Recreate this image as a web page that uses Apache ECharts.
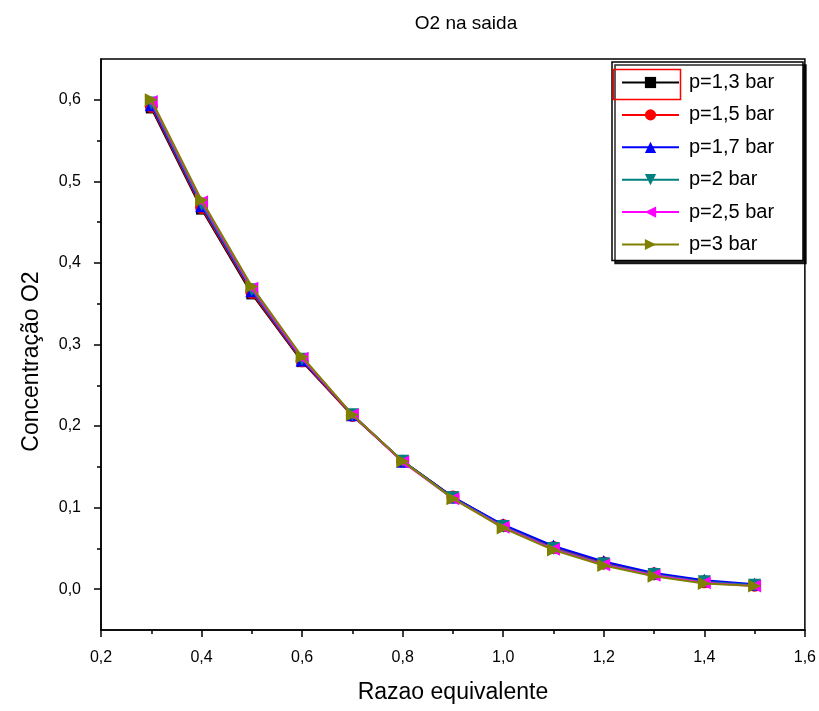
<!DOCTYPE html>
<html><head><meta charset="utf-8">
<script src="https://cdn.jsdelivr.net/npm/echarts@6/dist/echarts.min.js"></script>
<style>html,body{margin:0;padding:0;background:#fff}#c{width:819px;height:711px}</style>
</head><body><div id="c"></div>
<script>
const phi = [0.3,0.4,0.5,0.6,0.7,0.8,0.9,1.0,1.1,1.2,1.3,1.4,1.5];
const seriesNames = ['p=1,3 bar','p=1,5 bar','p=1,7 bar','p=2 bar','p=2,5 bar','p=3 bar'];
const p13 = [0.590,0.466,0.362,0.279,0.213,0.157,0.113,0.078,0.051,0.032,0.019,0.009,0.005];
const p15 = [0.592,0.468,0.364,0.280,0.213,0.157,0.113,0.078,0.051,0.032,0.019,0.009,0.005];
const p17 = [0.594,0.470,0.366,0.281,0.214,0.157,0.113,0.079,0.053,0.034,0.020,0.011,0.006];
const p20 = [0.596,0.472,0.367,0.282,0.214,0.157,0.112,0.077,0.050,0.031,0.018,0.009,0.005];
const p25 = [0.598,0.475,0.369,0.283,0.214,0.156,0.111,0.076,0.049,0.030,0.017,0.008,0.004];
const p30 = [0.600,0.477,0.371,0.285,0.214,0.157,0.111,0.075,0.048,0.029,0.016,0.007,0.004];
const allValues = [p13,p15,p17,p20,p25,p30];
const yMajorTicks = [0.0,0.1,0.2,0.3,0.4,0.5,0.6];
const yMinorTicks = [0.05,0.15,0.25,0.35,0.45,0.55];
const colors = ['#000000','#ff0000','#0000ff','#008080','#ff00ff','#808000'];
const symbols = ['rect','circle','triangle','triangle','triangle','triangle'];
const rotations = [0,0,0,180,90,-90];

const font = 'Liberation Sans, Arial, sans-serif';
const fmt = v => v.toFixed(1).replace('.', ',').replace('-0,0','0,0');

const series = allValues.map((vals,i)=>({
  name: seriesNames[i],
  type: 'line',
  yAxisIndex: 0,
  data: phi.map((x,j)=>[x, vals[j]]),
  symbol: symbols[i],
  symbolSize: i===0 ? 11 : 13,
  symbolRotate: rotations[i],
  showAllSymbol: true,
  lineStyle: {color: colors[i], width: 2},
  itemStyle: {color: colors[i]},
  z: 2 + i
}));

const axisLineStyle = {color: '#000', width: 1.5};
const chart = echarts.init(document.getElementById('c'), null, {renderer:'canvas'});
chart.setOption({
  animation: false,
  backgroundColor: '#fff',
  title: {text: 'O2 na saida', left: 461, textAlign: 'center', top: 9,
    textStyle: {fontFamily: font, fontSize: 19, fontWeight: 'normal', color: '#000'}},
  grid: {left: 101, right: 14, top: 59, bottom: 81, show: true, borderColor: '#000', borderWidth: 1.5},
  legend: {
    orient: 'vertical', left: 612, top: 62,
    backgroundColor: '#fff', borderColor: '#000', borderWidth: 1.5,
    padding: [10.5, 8, 6, 9],
    itemWidth: 57, itemHeight: 14, itemGap: 12.4,
    shadowColor: 'rgba(0,0,0,0.85)', shadowOffsetX: 3, shadowOffsetY: 3, shadowBlur: 0,
    textStyle: {fontFamily: font, fontSize: 20, lineHeight: 20, color: '#000', width: 106, padding: [0,0,0,5]},
    data: seriesNames
  },
  xAxis: {
    type: 'value', min: 0.2, max: 1.6, interval: 0.2,
    name: 'Razao equivalente', nameLocation: 'middle', nameGap: 51,
    nameTextStyle: {fontFamily: font, fontSize: 23, color: '#000'},
    axisLine: {show: true, onZero: false, lineStyle: axisLineStyle},
    axisTick: {show: true, inside: false, length: 7, lineStyle: axisLineStyle},
    minorTick: {show: true, splitNumber: 2, length: 4, lineStyle: axisLineStyle},
    axisLabel: {fontFamily: font, fontSize: 16, color: '#000', margin: 20, formatter: fmt},
    splitLine: {show: false}
  },
  yAxis: [{
    type: 'value', min: -0.05, max: 0.65,
    name: 'Concentração O2', nameLocation: 'middle', nameGap: 58,
    nameTextStyle: {fontFamily: font, fontSize: 23, color: '#000', padding: [0, 34, 0, 0]},
    axisLine: {show: true, onZero: false, lineStyle: axisLineStyle},
    axisTick: {show: true, inside: false, length: 7, lineStyle: axisLineStyle, customValues: yMajorTicks},
    axisLabel: {fontFamily: font, fontSize: 16, color: '#000', margin: 20, formatter: fmt, customValues: yMajorTicks},
    splitLine: {show: false}
  }, {
    type: 'value', min: -0.05, max: 0.65, position: 'left', offset: 0,
    axisLine: {show: false},
    axisTick: {show: true, inside: false, length: 4, lineStyle: axisLineStyle, customValues: yMinorTicks},
    axisLabel: {show: false},
    splitLine: {show: false}
  }],
  graphic: [{
    type: 'rect', left: 611, top: 67, z: 100,
    shape: {width: 67, height: 30},
    style: {fill: 'none', stroke: '#ff0000', lineWidth: 1.5}
  }],
  series: series
});
</script></body></html>
